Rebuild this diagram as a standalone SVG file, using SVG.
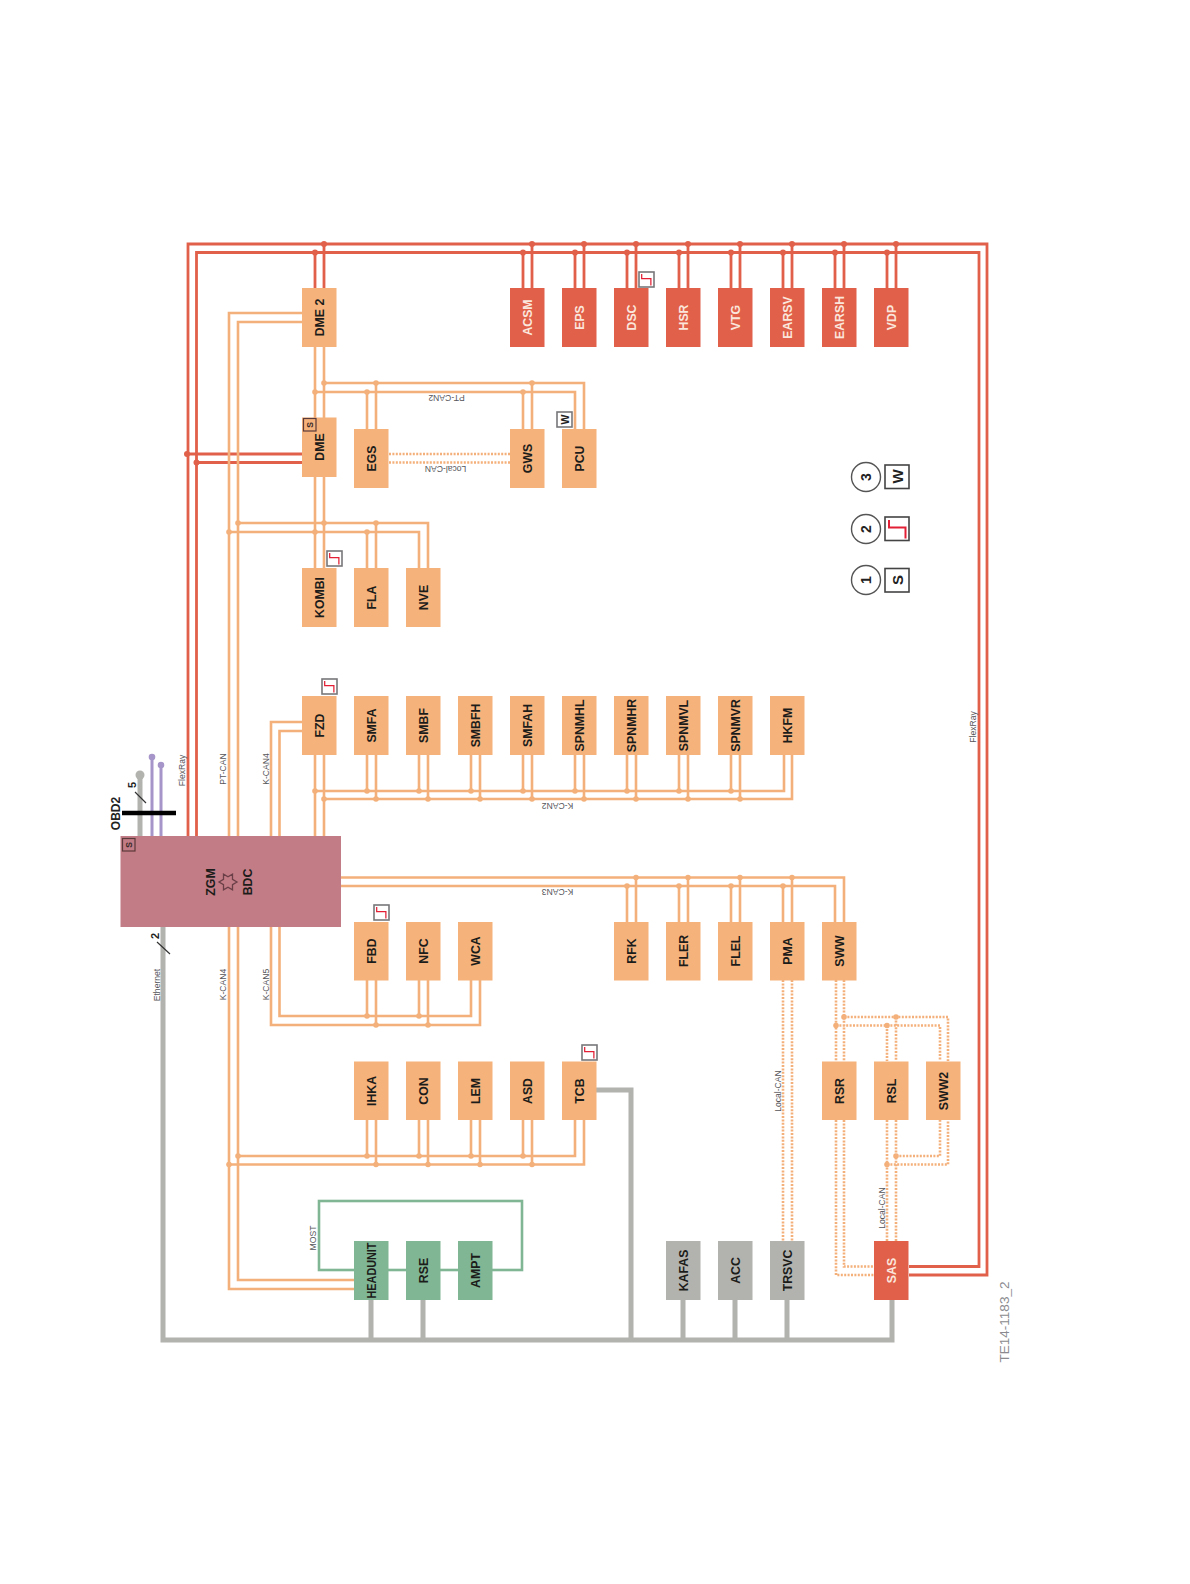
<svg xmlns="http://www.w3.org/2000/svg" width="1190" height="1584" viewBox="0 0 1190 1584">
<style>
text{font-family:"Liberation Sans",Arial,sans-serif;text-anchor:middle;dominant-baseline:central}
.n{font-size:12.3px;font-weight:bold;fill:#1c1c1a}
.w{font-size:12.3px;font-weight:bold;fill:#fbe6dc}
.l{font-size:8.6px;fill:#55555a}
.o{fill:#f5b27b}.r{fill:#e1604a}.g{fill:#80b694}.y{fill:#b2b3ae}
.co,.cd,.cr,.cy,.cm,.cv{fill:none}
.co{stroke:#f4b07a;stroke-width:2.6}
.cd{stroke:#f4b07a;stroke-width:2.6;stroke-dasharray:2 1.4}
.cr{stroke:#e1604a;stroke-width:2.8}
.cy{stroke:#b2b3ae;stroke-width:5}
.cm{stroke:#80b694;stroke-width:2.6}
.cv{stroke:#a695c9;stroke-width:3}
.dots-o circle{fill:#f4b07a}
.dots-r circle{fill:#e1604a}
.bx{fill:#fff;stroke:#77777a;stroke-width:1.6}
.bs{fill:none;stroke:#5a3a3a;stroke-width:1.2}
.lb{fill:#fff;stroke:#444;stroke-width:1.6}
.lc{fill:#fff;stroke:#555;stroke-width:1.4}
.st{fill:none;stroke:#e21f35;stroke-width:2}
</style>
<defs>
<g id="badge-step"><rect class="bx" width="15" height="15"/><path class="st" transform="scale(.625)" d="M4.3 3.3V10.7H19V21.7"/></g>
</defs>
<g id="connectors">
<!-- FlexRay -->
<g class="flexray">
<path class="cr" d="M188 836V244H987V1275H909"/>
<path class="cr" d="M196.500 836V252.500H979V1266.500H909"/>
<path class="cr" d="M187 454H302M196 462.500H302"/>
<path class="cr" stroke-width="3.5" d="M315 252.500V288M324 244V288M523 252.500V288M532 244V288M575 252.500V288M584 244V288M627 252.500V288M636 244V288M679 252.500V288M688 244V288M731 252.500V288M740 244V288M783 252.500V288M792 244V288M835 252.500V288M844 244V288M887 252.500V288M896 244V288"/>
<g class="dots-r"><circle cx="187" cy="454" r="3"/><circle cx="196.500" cy="462.500" r="3"/><circle cx="315" cy="252.500" r="3"/><circle cx="324" cy="244" r="3"/><circle cx="523" cy="252.500" r="3"/><circle cx="532" cy="244" r="3"/><circle cx="575" cy="252.500" r="3"/><circle cx="584" cy="244" r="3"/><circle cx="627" cy="252.500" r="3"/><circle cx="636" cy="244" r="3"/><circle cx="679" cy="252.500" r="3"/><circle cx="688" cy="244" r="3"/><circle cx="731" cy="252.500" r="3"/><circle cx="740" cy="244" r="3"/><circle cx="783" cy="252.500" r="3"/><circle cx="792" cy="244" r="3"/><circle cx="835" cy="252.500" r="3"/><circle cx="844" cy="244" r="3"/><circle cx="887" cy="252.500" r="3"/><circle cx="896" cy="244" r="3"/></g>
</g>
<!-- PT-CAN and K-CAN4 trunks -->
<path class="co" d="M302 313H229V836M302 322H238V836"/>
<path class="co" d="M229 927V1289H354M238 927V1280H354"/>
<!-- DME chain -->
<path class="co" d="M315 347V568M324 347V568"/>
<!-- PT-CAN2 -->
<path class="co" d="M315 392H575V429M324 383H584V429M367 392V429M376 383V429M523 392V429M532 383V429"/>
<!-- KOMBI bus -->
<path class="co" d="M229 532H419V568M238 523H428V568M367 532V568M376 523V568"/>
<!-- K-CAN4 upper -->
<path class="co" d="M271 836V722H302M279.500 836V731H302"/>
<!-- K-CAN2 -->
<path class="co" d="M315 755V836M324 755V836M315 791H784V755M324 799H792V755M367 791V755M376 799V755M419 791V755M428 799V755M471 791V755M480 799V755M523 791V755M532 799V755M575 791V755M584 799V755M627 791V755M636 799V755M679 791V755M688 799V755M731 791V755M740 799V755"/>
<!-- K-CAN3 -->
<path class="co" d="M341 877.500H844V922M341 886H835V922M627 886V922M636 877.500V922M679 886V922M688 877.500V922M731 886V922M740 877.500V922M783 886V922M792 877.500V922"/>
<!-- K-CAN5 -->
<path class="co" d="M271 927V1025H480V980M279.500 927V1016H471V980M367 1016V980M376 1025V980M419 1016V980M428 1025V980"/>
<!-- K-CAN4 lower -->
<path class="co" d="M238 1156H575V1120M229 1164.500H584V1120M367 1156V1120M376 1164.500V1120M419 1156V1120M428 1164.500V1120M471 1156V1120M480 1164.500V1120M523 1156V1120M532 1164.500V1120"/>
<g class="dots-o">
<circle cx="315" cy="392" r="2.800"/><circle cx="324" cy="383" r="2.800"/><circle cx="367" cy="392" r="2.800"/><circle cx="376" cy="383" r="2.800"/><circle cx="523" cy="392" r="2.800"/><circle cx="532" cy="383" r="2.800"/>
<circle cx="229" cy="532" r="2.800"/><circle cx="238" cy="523" r="2.800"/><circle cx="315" cy="532" r="2.800"/><circle cx="324" cy="523" r="2.800"/><circle cx="367" cy="532" r="2.800"/><circle cx="376" cy="523" r="2.800"/>
<circle cx="315" cy="791" r="2.800"/><circle cx="324" cy="799" r="2.800"/><circle cx="367" cy="791" r="2.800"/><circle cx="376" cy="799" r="2.800"/><circle cx="419" cy="791" r="2.800"/><circle cx="428" cy="799" r="2.800"/><circle cx="471" cy="791" r="2.800"/><circle cx="480" cy="799" r="2.800"/><circle cx="523" cy="791" r="2.800"/><circle cx="532" cy="799" r="2.800"/><circle cx="575" cy="791" r="2.800"/><circle cx="584" cy="799" r="2.800"/><circle cx="627" cy="791" r="2.800"/><circle cx="636" cy="799" r="2.800"/><circle cx="679" cy="791" r="2.800"/><circle cx="688" cy="799" r="2.800"/><circle cx="731" cy="791" r="2.800"/><circle cx="740" cy="799" r="2.800"/>
<circle cx="627" cy="886" r="2.800"/><circle cx="636" cy="877.500" r="2.800"/><circle cx="679" cy="886" r="2.800"/><circle cx="688" cy="877.500" r="2.800"/><circle cx="731" cy="886" r="2.800"/><circle cx="740" cy="877.500" r="2.800"/><circle cx="783" cy="886" r="2.800"/><circle cx="792" cy="877.500" r="2.800"/>
<circle cx="367" cy="1016" r="2.800"/><circle cx="376" cy="1025" r="2.800"/><circle cx="419" cy="1016" r="2.800"/><circle cx="428" cy="1025" r="2.800"/>
<circle cx="238" cy="1156" r="2.800"/><circle cx="229" cy="1164.500" r="2.800"/><circle cx="367" cy="1156" r="2.800"/><circle cx="376" cy="1164.500" r="2.800"/><circle cx="419" cy="1156" r="2.800"/><circle cx="428" cy="1164.500" r="2.800"/><circle cx="471" cy="1156" r="2.800"/><circle cx="480" cy="1164.500" r="2.800"/><circle cx="523" cy="1156" r="2.800"/><circle cx="532" cy="1164.500" r="2.800"/>
<circle cx="844" cy="1017" r="2.800"/><circle cx="836" cy="1025.500" r="2.800"/><circle cx="896" cy="1017" r="2.800"/><circle cx="887" cy="1025.500" r="2.800"/><circle cx="896" cy="1156" r="2.800"/><circle cx="887" cy="1164.500" r="2.800"/>
</g>
<!-- Local-CAN dotted -->
<path class="cd" d="M389 454H510M389 462.500H510"/>
<path class="cd" d="M783 980V1241M792 980V1241"/>
<path class="cd" d="M836 980V1061M844 980V1061M844 1017H948V1061M836 1025.500H940V1061M887 1025.500V1061M896 1017V1061"/>
<path class="cd" d="M887 1120V1241M896 1120V1241M896 1156H940V1120M887 1164.500H948V1120"/>
<path class="cd" d="M836 1120V1275H874M844 1120V1266.500H874"/>
<!-- Ethernet -->
<path class="cy" d="M163 927V1340H892V1300M371 1300V1340M423 1300V1340M683 1300V1340M735 1300V1340M787 1300V1340M592 1090H631V1340"/>
<!-- MOST -->
<rect class="cm" x="319" y="1201" width="203" height="69"/>
<!-- OBD2 -->
<path class="cy" d="M140 836V775"/>
<circle class="y" cx="140" cy="775" r="4.500"/>
<path class="cv" d="M152 836V758M161 836V766"/>
<circle cx="152" cy="757" r="3.300" fill="#a695c9"/><circle cx="161" cy="765" r="3.300" fill="#a695c9"/>
<path d="M122 813H176" stroke="#000" stroke-width="4.500" fill="none"/>
<path d="M135 792L146 803M157 942L170 954" stroke="#333" stroke-width="1.200" fill="none"/>
</g>
<g id="node-BDC"><rect x="120.500" y="836" width="220.500" height="91" fill="#c27c85"/><rect class="bs" x="122.500" y="838.500" width="12.500" height="12.500"/><text transform="translate(129,845) rotate(-90)" font-size="8.500" font-weight="bold" fill="#3a2a2a">S</text><text class="n" transform="translate(210.500,882) rotate(-90)">ZGM</text><text class="n" transform="translate(248,882) rotate(-90)">BDC</text><polygon points="237,882 232.500,879.400 232.500,874.200 228,876.800 223.500,874.200 223.500,879.400 219,882 223.500,884.600 223.500,889.800 228,887.200 232.500,889.800 232.500,884.600" fill="none" stroke="#6a3f48" stroke-width="1.300"/></g>
<g id="node-DME2"><rect class="o" x="302" y="288" width="34.500" height="59"/><text class="n" transform="translate(319.500,317.500) rotate(-90)">DME 2</text></g>
<g id="node-ACSM"><rect class="r" x="510" y="288" width="34.500" height="59"/><text class="w" transform="translate(527.500,317.500) rotate(-90)">ACSM</text></g>
<g id="node-EPS"><rect class="r" x="562" y="288" width="34.500" height="59"/><text class="w" transform="translate(579.500,317.500) rotate(-90)">EPS</text></g>
<g id="node-DSC"><rect class="r" x="614" y="288" width="34.500" height="59"/><text class="w" transform="translate(631.500,317.500) rotate(-90)">DSC</text><use href="#badge-step" x="639" y="272"/></g>
<g id="node-HSR"><rect class="r" x="666" y="288" width="34.500" height="59"/><text class="w" transform="translate(683.500,317.500) rotate(-90)">HSR</text></g>
<g id="node-VTG"><rect class="r" x="718" y="288" width="34.500" height="59"/><text class="w" transform="translate(735.500,317.500) rotate(-90)">VTG</text></g>
<g id="node-EARSV"><rect class="r" x="770" y="288" width="34.500" height="59"/><text class="w" transform="translate(787.500,317.500) rotate(-90)">EARSV</text></g>
<g id="node-EARSH"><rect class="r" x="822" y="288" width="34.500" height="59"/><text class="w" transform="translate(839.500,317.500) rotate(-90)">EARSH</text></g>
<g id="node-VDP"><rect class="r" x="874" y="288" width="34.500" height="59"/><text class="w" transform="translate(891.500,317.500) rotate(-90)">VDP</text></g>
<g id="node-DME"><rect class="o" x="302" y="417.500" width="34.500" height="59.500"/><text class="n" transform="translate(319.500,447) rotate(-90)">DME</text><rect class="bs" x="303.500" y="418.500" width="12.500" height="12.500"/><text transform="translate(310,425) rotate(-90)" font-size="8.500" font-weight="bold" fill="#3a2a2a">S</text></g>
<g id="node-EGS"><rect class="o" x="354" y="429" width="34.500" height="59"/><text class="n" transform="translate(371.500,458.500) rotate(-90)">EGS</text></g>
<g id="node-GWS"><rect class="o" x="510" y="429" width="34.500" height="59"/><text class="n" transform="translate(527.500,458.500) rotate(-90)">GWS</text></g>
<g id="node-PCU"><rect class="o" x="562" y="429" width="34.500" height="59"/><text class="n" transform="translate(579.500,458.500) rotate(-90)">PCU</text><rect class="bx" x="557" y="412" width="15" height="15"/><text transform="translate(564.500,419.500) rotate(-90)" font-size="10.500" font-weight="bold" fill="#222">W</text></g>
<g id="node-KOMBI"><rect class="o" x="302" y="568" width="34.500" height="59"/><text class="n" transform="translate(319.500,597.500) rotate(-90)">KOMBI</text><use href="#badge-step" x="327" y="551"/></g>
<g id="node-FLA"><rect class="o" x="354" y="568" width="34.500" height="59"/><text class="n" transform="translate(371.500,597.500) rotate(-90)">FLA</text></g>
<g id="node-NVE"><rect class="o" x="406" y="568" width="34.500" height="59"/><text class="n" transform="translate(423.500,597.500) rotate(-90)">NVE</text></g>
<g id="node-FZD"><rect class="o" x="302" y="696" width="34.500" height="59"/><text class="n" transform="translate(319.500,725.500) rotate(-90)">FZD</text><use href="#badge-step" x="322" y="679"/></g>
<g id="node-SMFA"><rect class="o" x="354" y="696" width="34.500" height="59"/><text class="n" transform="translate(371.500,725.500) rotate(-90)">SMFA</text></g>
<g id="node-SMBF"><rect class="o" x="406" y="696" width="34.500" height="59"/><text class="n" transform="translate(423.500,725.500) rotate(-90)">SMBF</text></g>
<g id="node-SMBFH"><rect class="o" x="458" y="696" width="34.500" height="59"/><text class="n" transform="translate(475.500,725.500) rotate(-90)">SMBFH</text></g>
<g id="node-SMFAH"><rect class="o" x="510" y="696" width="34.500" height="59"/><text class="n" transform="translate(527.500,725.500) rotate(-90)">SMFAH</text></g>
<g id="node-SPNMHL"><rect class="o" x="562" y="696" width="34.500" height="59"/><text class="n" transform="translate(579.500,725.500) rotate(-90)">SPNMHL</text></g>
<g id="node-SPNMHR"><rect class="o" x="614" y="696" width="34.500" height="59"/><text class="n" transform="translate(631.500,725.500) rotate(-90)">SPNMHR</text></g>
<g id="node-SPNMVL"><rect class="o" x="666" y="696" width="34.500" height="59"/><text class="n" transform="translate(683.500,725.500) rotate(-90)">SPNMVL</text></g>
<g id="node-SPNMVR"><rect class="o" x="718" y="696" width="34.500" height="59"/><text class="n" transform="translate(735.500,725.500) rotate(-90)">SPNMVR</text></g>
<g id="node-HKFM"><rect class="o" x="770" y="696" width="34.500" height="59"/><text class="n" transform="translate(787.500,725.500) rotate(-90)">HKFM</text></g>
<g id="node-FBD"><rect class="o" x="354" y="922" width="34.500" height="58.500"/><text class="n" transform="translate(371.500,951) rotate(-90)">FBD</text><use href="#badge-step" x="374" y="905"/></g>
<g id="node-NFC"><rect class="o" x="406" y="922" width="34.500" height="58.500"/><text class="n" transform="translate(423.500,951) rotate(-90)">NFC</text></g>
<g id="node-WCA"><rect class="o" x="458" y="922" width="34.500" height="58.500"/><text class="n" transform="translate(475.500,951) rotate(-90)">WCA</text></g>
<g id="node-RFK"><rect class="o" x="614" y="922" width="34.500" height="58.500"/><text class="n" transform="translate(631.500,951) rotate(-90)">RFK</text></g>
<g id="node-FLER"><rect class="o" x="666" y="922" width="34.500" height="58.500"/><text class="n" transform="translate(683.500,951) rotate(-90)">FLER</text></g>
<g id="node-FLEL"><rect class="o" x="718" y="922" width="34.500" height="58.500"/><text class="n" transform="translate(735.500,951) rotate(-90)">FLEL</text></g>
<g id="node-PMA"><rect class="o" x="770" y="922" width="34.500" height="58.500"/><text class="n" transform="translate(787.500,951) rotate(-90)">PMA</text></g>
<g id="node-SWW"><rect class="o" x="822" y="922" width="34.500" height="58.500"/><text class="n" transform="translate(839.500,951) rotate(-90)">SWW</text></g>
<g id="node-IHKA"><rect class="o" x="354" y="1061.500" width="34.500" height="58.500"/><text class="n" transform="translate(371.500,1091) rotate(-90)">IHKA</text></g>
<g id="node-CON"><rect class="o" x="406" y="1061.500" width="34.500" height="58.500"/><text class="n" transform="translate(423.500,1091) rotate(-90)">CON</text></g>
<g id="node-LEM"><rect class="o" x="458" y="1061.500" width="34.500" height="58.500"/><text class="n" transform="translate(475.500,1091) rotate(-90)">LEM</text></g>
<g id="node-ASD"><rect class="o" x="510" y="1061.500" width="34.500" height="58.500"/><text class="n" transform="translate(527.500,1091) rotate(-90)">ASD</text></g>
<g id="node-TCB"><rect class="o" x="562" y="1061.500" width="34.500" height="58.500"/><text class="n" transform="translate(579.500,1091) rotate(-90)">TCB</text><use href="#badge-step" x="582" y="1045"/></g>
<g id="node-RSR"><rect class="o" x="822" y="1061.500" width="34.500" height="58.500"/><text class="n" transform="translate(839.500,1091) rotate(-90)">RSR</text></g>
<g id="node-RSL"><rect class="o" x="874" y="1061.500" width="34.500" height="58.500"/><text class="n" transform="translate(891.500,1091) rotate(-90)">RSL</text></g>
<g id="node-SWW2"><rect class="o" x="926" y="1061.500" width="34.500" height="58.500"/><text class="n" transform="translate(943.500,1091) rotate(-90)">SWW2</text></g>
<g id="node-HEADUNIT"><rect class="g" x="354" y="1241" width="34.500" height="59"/><text class="n" transform="translate(371.500,1270.500) rotate(-90)" textLength="56" lengthAdjust="spacingAndGlyphs">HEADUNIT</text></g>
<g id="node-RSE"><rect class="g" x="406" y="1241" width="34.500" height="59"/><text class="n" transform="translate(423.500,1270.500) rotate(-90)">RSE</text></g>
<g id="node-AMPT"><rect class="g" x="458" y="1241" width="34.500" height="59"/><text class="n" transform="translate(475.500,1270.500) rotate(-90)">AMPT</text></g>
<g id="node-KAFAS"><rect class="y" x="666" y="1241" width="34.500" height="59"/><text class="n" transform="translate(683.500,1270.500) rotate(-90)">KAFAS</text></g>
<g id="node-ACC"><rect class="y" x="718" y="1241" width="34.500" height="59"/><text class="n" transform="translate(735.500,1270.500) rotate(-90)">ACC</text></g>
<g id="node-TRSVC"><rect class="y" x="770" y="1241" width="34.500" height="59"/><text class="n" transform="translate(787.500,1270.500) rotate(-90)">TRSVC</text></g>
<g id="node-SAS"><rect class="r" x="874" y="1241" width="34.500" height="59"/><text class="w" transform="translate(891.500,1270.500) rotate(-90)">SAS</text></g>
<g id="labels">
<text class="l" transform="translate(182,770.500) rotate(-90)">FlexRay</text>
<text class="l" transform="translate(223,769) rotate(-90)">PT-CAN</text>
<text class="l" transform="translate(266,769) rotate(-90)">K-CAN4</text>
<text class="l" transform="translate(156.500,985) rotate(-90)">Ethernet</text>
<text class="l" transform="translate(223,984.500) rotate(-90)">K-CAN4</text>
<text class="l" transform="translate(265.500,984.500) rotate(-90)">K-CAN5</text>
<text class="l" transform="translate(446.500,398) rotate(180)">PT-CAN2</text>
<text class="l" transform="translate(445.500,468.500) rotate(180)">Local-CAN</text>
<text class="l" transform="translate(557.500,806) rotate(180)">K-CAN2</text>
<text class="l" transform="translate(557.500,892) rotate(180)">K-CAN3</text>
<text class="l" transform="translate(777.500,1091) rotate(-90)">Local-CAN</text>
<text class="l" transform="translate(882,1208) rotate(-90)">Local-CAN</text>
<text class="l" transform="translate(313,1238) rotate(-90)">MOST</text>
<text class="l" transform="translate(972.500,727) rotate(-90)">FlexRay</text>
<text transform="translate(132,785) rotate(-90)" font-size="11" font-weight="bold" fill="#222">5</text>
<text transform="translate(155,936) rotate(-90)" font-size="11" font-weight="bold" fill="#222">2</text>
<text transform="translate(115.500,813.500) rotate(-90)" font-size="12" font-weight="bold" fill="#222">OBD2</text>
<text transform="translate(1004,1322) rotate(-90)" font-size="13.500" fill="#8b8b8f">TE14-1183_2</text>
</g>
<g id="legend">
<circle class="lc" cx="866" cy="477" r="14.500"/><text transform="translate(866,477) rotate(-90)" font-size="14" font-weight="bold" fill="#222">3</text>
<rect class="lb" x="885" y="465" width="24" height="23.500"/><text transform="translate(897,476.500) rotate(-90)" font-size="15" font-weight="bold" fill="#222">W</text>
<circle class="lc" cx="866" cy="529" r="14.500"/><text transform="translate(866,529) rotate(-90)" font-size="14" font-weight="bold" fill="#222">2</text>
<rect class="lb" x="885" y="517" width="24" height="23.500"/><path class="st" d="M889 520V527.500H905.500V538.500"/>
<circle class="lc" cx="866" cy="580" r="14.500"/><text transform="translate(866,580) rotate(-90)" font-size="14" font-weight="bold" fill="#222">1</text>
<rect class="lb" x="885" y="568.500" width="24" height="23.500"/><text transform="translate(897,580) rotate(-90)" font-size="15" font-weight="bold" fill="#222">S</text>
</g>
</svg>
